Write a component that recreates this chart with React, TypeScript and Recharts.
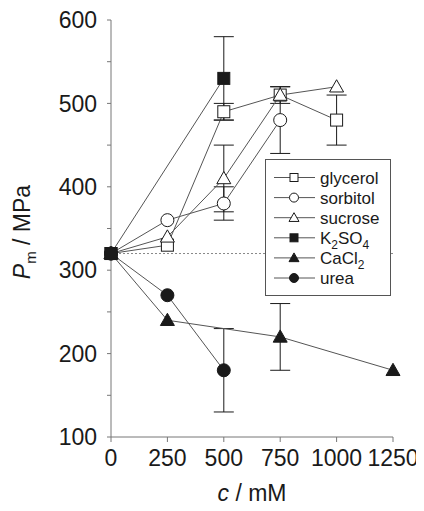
import { ErrorBar, Legend, Line, LineChart, ReferenceLine, XAxis, YAxis } from 'recharts';

type Point = { c: number; p: number; err?: number };

const xTicks = [0, 250, 500, 750, 1000, 1250];
const yTicks = [100, 150, 200, 250, 300, 350, 400, 450, 500, 550, 600];

const glycerol: Point[] = [
  { c: 0, p: 320 },
  { c: 250, p: 330 },
  { c: 500, p: 490, err: 10 },
  { c: 750, p: 510, err: 10 },
  { c: 1000, p: 480, err: 30 },
];
const sorbitol: Point[] = [
  { c: 0, p: 320 },
  { c: 250, p: 360 },
  { c: 500, p: 380, err: 20 },
  { c: 750, p: 480, err: 40 },
];
const sucrose: Point[] = [
  { c: 0, p: 320 },
  { c: 250, p: 340 },
  { c: 500, p: 410, err: 40 },
  { c: 750, p: 510 },
  { c: 1000, p: 520 },
];
const k2so4: Point[] = [
  { c: 0, p: 320 },
  { c: 500, p: 530, err: 50 },
];
const cacl2: Point[] = [
  { c: 0, p: 320 },
  { c: 250, p: 240 },
  { c: 750, p: 220, err: 40 },
  { c: 1250, p: 180 },
];
const urea: Point[] = [
  { c: 0, p: 320 },
  { c: 250, p: 270 },
  { c: 500, p: 180, err: 50 },
];

type Shape = 'square' | 'circle' | 'triangle';

const INK = '#1a1a1a';
const LINE = '#555';
const AXIS = '#777';

function Marker({ cx, cy, shape, filled, size }: { cx: number; cy: number; shape: Shape; filled: boolean; size: number }) {
  const fill = filled ? INK : '#fff';
  const h = size / 2;
  if (shape === 'square') {
    return <rect x={cx - h} y={cy - h} width={size} height={size} fill={fill} stroke={INK} strokeWidth={1} />;
  }
  if (shape === 'circle') {
    return <circle cx={cx} cy={cy} r={h + 0.5} fill={fill} stroke={INK} strokeWidth={1} />;
  }
  const t = h + 1;
  return (
    <polygon
      points={`${cx},${cy - t} ${cx + t},${cy + t * 0.75} ${cx - t},${cy + t * 0.75}`}
      fill={fill}
      stroke={INK}
      strokeWidth={1}
    />
  );
}

const dotFor = (shape: Shape, filled: boolean) => (props: any) => {
  const { cx, cy, index } = props;
  if (cx == null || cy == null) return <g key={index} />;
  return (
    <g key={index}>
      <Marker cx={cx} cy={cy} shape={shape} filled={filled} size={12} />
    </g>
  );
};

const legendRows: { shape: Shape; filled: boolean; label: React.ReactNode }[] = [
  { shape: 'square', filled: false, label: 'glycerol' },
  { shape: 'circle', filled: false, label: 'sorbitol' },
  { shape: 'triangle', filled: false, label: 'sucrose' },
  {
    shape: 'square',
    filled: true,
    label: (
      <>
        K<tspan fontSize={12} dy={5}>2</tspan>
        <tspan dy={-5}>SO</tspan>
        <tspan fontSize={12} dy={5}>4</tspan>
      </>
    ),
  },
  {
    shape: 'triangle',
    filled: true,
    label: (
      <>
        CaCl<tspan fontSize={12} dy={5}>2</tspan>
      </>
    ),
  },
  { shape: 'circle', filled: true, label: 'urea' },
];

function LegendBox() {
  return (
    <div style={{ width: 124, height: 135, border: `1px solid ${LINE}`, background: '#fff' }}>
      <svg width={124} height={135}>
        {legendRows.map((r, i) => {
          const y = 17.5 + i * 20.1;
          return (
            <g key={i}>
              <line x1={8} x2={49} y1={y} y2={y} stroke={LINE} strokeWidth={1} />
              <Marker cx={28} cy={y} shape={r.shape} filled={r.filled} size={8} />
              <text x={54} y={y + 6} fontSize={17} fill={INK}>
                {r.label}
              </text>
            </g>
          );
        })}
      </svg>
    </div>
  );
}

const YTick = (props: any) => {
  const { x, y, payload } = props;
  if (payload.value % 100 !== 0) return <g />;
  return (
    <text x={x} y={y} dy="0.355em" textAnchor="end" fontSize={23} fill={INK}>
      {payload.value}
    </text>
  );
};

const series: { data: Point[]; shape: Shape; filled: boolean; name: string }[] = [
  { data: glycerol, shape: 'square', filled: false, name: 'glycerol' },
  { data: sorbitol, shape: 'circle', filled: false, name: 'sorbitol' },
  { data: sucrose, shape: 'triangle', filled: false, name: 'sucrose' },
  { data: urea, shape: 'circle', filled: true, name: 'urea' },
  { data: cacl2, shape: 'triangle', filled: true, name: 'CaCl2' },
  { data: k2so4, shape: 'square', filled: true, name: 'K2SO4' },
];

export default function App() {
  return (
    <div style={{ fontFamily: '"Liberation Sans", Arial, sans-serif' }}>
      <LineChart width={416} height={503} margin={{ top: 12, right: 31, bottom: 0, left: 0 }}>
        <XAxis
          type="number"
          dataKey="c"
          domain={[0, 1250]}
          ticks={xTicks}
          interval={0}
          allowDuplicatedCategory={false}
          stroke={AXIS}
          tickSize={5}
          tickMargin={8}
          height={74}
          tick={{ fontSize: 23, fill: INK }}
          label={{
            content: () => (
              <text x={244} y={493} textAnchor="middle" fontSize={23} fill={INK}>
                <tspan fontStyle="italic">c</tspan> / mM
              </text>
            ),
          }}
        />
        <XAxis xAxisId="top" orientation="top" type="number" domain={[0, 1250]} tick={false} tickLine={false} height={0} stroke={AXIS} />
        <YAxis
          type="number"
          dataKey="p"
          domain={[100, 600]}
          ticks={yTicks}
          interval={0}
          stroke={AXIS}
          tickSize={4}
          tickMargin={10}
          width={103}
          tick={<YTick />}
          label={{
            content: () => (
              <text x={22} y={224} transform="rotate(-90 22 224)" textAnchor="middle" fontSize={23} fill={INK}>
                <tspan fontStyle="italic">P</tspan>
                <tspan fontSize={15} dy={6}>m</tspan>
                <tspan dy={-6}> / MPa</tspan>
              </text>
            ),
          }}
        />
        <YAxis yAxisId="right" orientation="right" domain={[100, 600]} tick={false} tickLine={false} width={0} stroke={AXIS} />
        <ReferenceLine y={320} stroke="#888" strokeDasharray="2 2" />
        {series.map((s) => (
          <Line
            key={s.name}
            data={s.data}
            dataKey="p"
            name={s.name}
            stroke={LINE}
            strokeWidth={1}
            dot={dotFor(s.shape, s.filled)}
            activeDot={false}
            isAnimationActive={false}
            legendType="none"
          >
            <ErrorBar dataKey="err" width={10} stroke={INK} strokeWidth={1} direction="y" />
          </Line>
        ))}
        <Legend
          layout="vertical"
          align="center"
          verticalAlign="middle"
          content={() => <LegendBox />}
          wrapperStyle={{ left: 257, top: 151, width: 126, height: 137 }}
        />
      </LineChart>
    </div>
  );
}
